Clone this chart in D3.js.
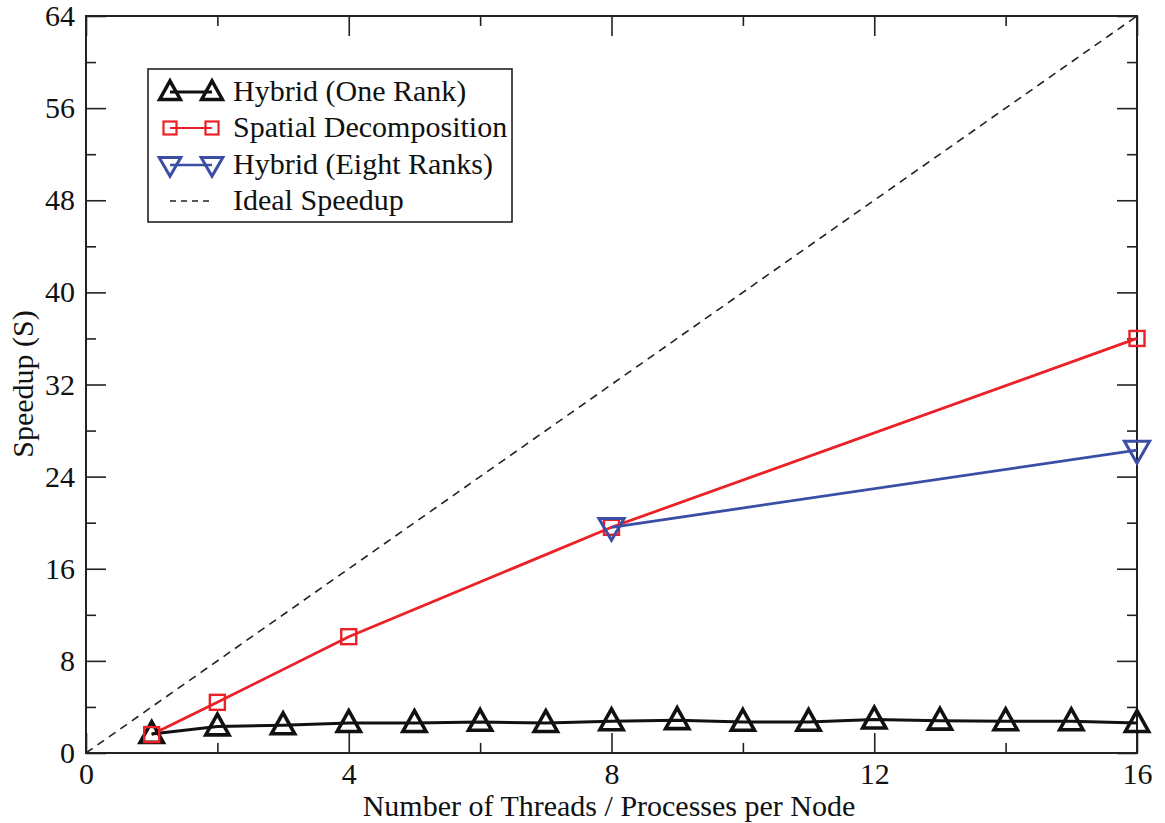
<!DOCTYPE html>
<html><head><meta charset="utf-8">
<script src="https://cdn.jsdelivr.net/npm/d3@7"></script>
<style>body{margin:0;background:#fff}svg{display:block}text{font-family:"Liberation Serif","Times New Roman",serif}</style>
</head><body><svg id="c" width="1165" height="823"></svg>
<script>
const hybridOneX = [1,2,3,4,5,6,7,8,9,10,11,12,13,14,15,16];
const hybridOneY = [1.65,2.3,2.4,2.6,2.6,2.7,2.6,2.75,2.85,2.7,2.7,2.9,2.8,2.75,2.75,2.6];
const spatialX = [1,2,4,8,16];
const spatialY = [1.6,4.4,10.1,19.6,36.0];
const hybridEightX = [8,16];
const hybridEightY = [19.6,26.3];
const idealX = [0,16];
const idealY = [0,64];
const xTicks = [0,4,8,12,16];
const yTicks = [0,8,16,24,32,40,48,56,64];
const legendLabels = ["Hybrid (One Rank)","Spatial Decomposition","Hybrid (Eight Ranks)","Ideal Speedup"];

const svg = d3.select("#c");
const L=86,R=1137,T=16,B=753;
const x = d3.scaleLinear().domain([0,16]).range([L,R]);
const y = d3.scaleLinear().domain([0,64]).range([B,T]);
const RED="#ec2027", BLUE="#3a4ea6";
const FONT="'Liberation Serif','Times New Roman',serif";

svg.append("path").datum(idealX.map((v,i)=>[v,idealY[i]]))
  .attr("d",d3.line().x(d=>x(d[0])).y(d=>y(d[1])))
  .attr("fill","none").attr("stroke","#222").attr("stroke-width",1.6).attr("stroke-dasharray","8,6");

svg.append("rect").attr("x",L).attr("y",T).attr("width",R-L).attr("height",B-T)
  .attr("fill","none").attr("stroke","#222").attr("stroke-width",2);

const minorX = d3.range(0,17,2), minorY = d3.range(0,65,4);
svg.append("g").attr("transform",`translate(0,${B})`)
  .call(d3.axisBottom(x).tickValues(xTicks).tickSize(-20).tickPadding(10).tickFormat(d3.format("d")));
svg.append("g").attr("transform",`translate(0,${T})`)
  .call(d3.axisTop(x).tickValues(xTicks).tickSize(-20).tickFormat(""));
svg.append("g").attr("transform",`translate(${L},0)`)
  .call(d3.axisLeft(y).tickValues(yTicks).tickSize(-20).tickPadding(11).tickFormat(d3.format("d")));
svg.append("g").attr("transform",`translate(${R},0)`)
  .call(d3.axisRight(y).tickValues(yTicks).tickSize(-20).tickFormat(""));
svg.append("g").attr("transform",`translate(0,${B})`)
  .call(d3.axisBottom(x).tickValues(minorX.filter(v=>v%4)).tickSize(-10).tickFormat(""));
svg.append("g").attr("transform",`translate(0,${T})`)
  .call(d3.axisTop(x).tickValues(minorX.filter(v=>v%4)).tickSize(-10).tickFormat(""));
svg.append("g").attr("transform",`translate(${L},0)`)
  .call(d3.axisLeft(y).tickValues(minorY.filter(v=>v%8)).tickSize(-10).tickFormat(""));
svg.append("g").attr("transform",`translate(${R},0)`)
  .call(d3.axisRight(y).tickValues(minorY.filter(v=>v%8)).tickSize(-10).tickFormat(""));
svg.selectAll(".domain").remove();
svg.selectAll(".tick line").attr("stroke","#222").attr("stroke-width",1.6);
svg.selectAll(".tick text").style("font-size","30px").style("font-family",FONT).attr("fill","#111");

svg.append("text").attr("x",609).attr("y",816).attr("text-anchor","middle")
  .style("font-size","30px").style("font-family",FONT).attr("fill","#111").text("Number of Threads / Processes per Node");
svg.append("text").attr("transform","translate(33,384) rotate(-90)").attr("text-anchor","middle")
  .style("font-size","30px").style("font-family",FONT).attr("fill","#111").text("Speedup (S)");

const line = d3.line().x(d=>x(d[0])).y(d=>y(d[1]));
function triUp(g,cx,cy,s,col,sw){
  g.append("path").attr("d",`M${cx},${cy-s*0.62}L${cx+s*0.58},${cy+s*0.42}L${cx-s*0.58},${cy+s*0.42}Z`)
   .attr("fill","none").attr("stroke",col).attr("stroke-width",sw).attr("stroke-linejoin","miter");
}
function triDown(g,cx,cy,s,col,sw){
  g.append("path").attr("d",`M${cx},${cy+s*0.62}L${cx+s*0.6},${cy-s*0.42}L${cx-s*0.6},${cy-s*0.42}Z`)
   .attr("fill","none").attr("stroke",col).attr("stroke-width",sw);
}
function sq(g,cx,cy,s,col,sw){
  g.append("rect").attr("x",cx-s/2).attr("y",cy-s/2).attr("width",s).attr("height",s)
   .attr("fill","none").attr("stroke",col).attr("stroke-width",sw);
}

svg.append("path").datum(spatialX.map((v,i)=>[v,spatialY[i]])).attr("d",line)
  .attr("fill","none").attr("stroke",RED).attr("stroke-width",2.8);
svg.append("path").datum(hybridEightX.map((v,i)=>[v,hybridEightY[i]])).attr("d",line)
  .attr("fill","none").attr("stroke",BLUE).attr("stroke-width",2.8);
svg.append("path").datum(hybridOneX.map((v,i)=>[v,hybridOneY[i]])).attr("d",line)
  .attr("fill","none").attr("stroke","#111").attr("stroke-width",3);

const gm = svg.append("g");
hybridOneX.forEach((v,i)=>triUp(gm,x(v),y(hybridOneY[i]),20,"#111",3.6));
spatialX.forEach((v,i)=>sq(gm,x(v),y(spatialY[i]),15,RED,2.4));
hybridEightX.forEach((v,i)=>triDown(gm,x(v),y(hybridEightY[i]),21,BLUE,3));

const lg = svg.append("g");
lg.append("rect").attr("x",148).attr("y",69).attr("width",364).attr("height",153)
  .attr("fill","#fff").attr("stroke","#222").attr("stroke-width",1.6);
const rows=[92,128,165,201], x1=170, x2=212;
lg.append("line").attr("x1",x1).attr("x2",x2).attr("y1",rows[0]).attr("y2",rows[0]).attr("stroke","#111").attr("stroke-width",3);
triUp(lg,x1,rows[0],18,"#111",3.4); triUp(lg,x2,rows[0],18,"#111",3.4);
lg.append("line").attr("x1",x1).attr("x2",x2).attr("y1",rows[1]).attr("y2",rows[1]).attr("stroke",RED).attr("stroke-width",2.2);
sq(lg,x1,rows[1],13,RED,2.2); sq(lg,x2,rows[1],13,RED,2.2);
lg.append("line").attr("x1",x1).attr("x2",x2).attr("y1",rows[2]).attr("y2",rows[2]).attr("stroke",BLUE).attr("stroke-width",2.6);
triDown(lg,x1,rows[2],18,BLUE,3); triDown(lg,x2,rows[2],18,BLUE,3);
lg.append("line").attr("x1",x1).attr("x2",x2).attr("y1",rows[3]).attr("y2",rows[3]).attr("stroke","#222").attr("stroke-width",1.6).attr("stroke-dasharray","6,5");
legendLabels.forEach((t,i)=>lg.append("text").attr("x",233).attr("y",rows[i]+9)
  .style("font-size","30px").style("font-family",FONT).attr("fill","#111").text(t));
</script></body></html>
